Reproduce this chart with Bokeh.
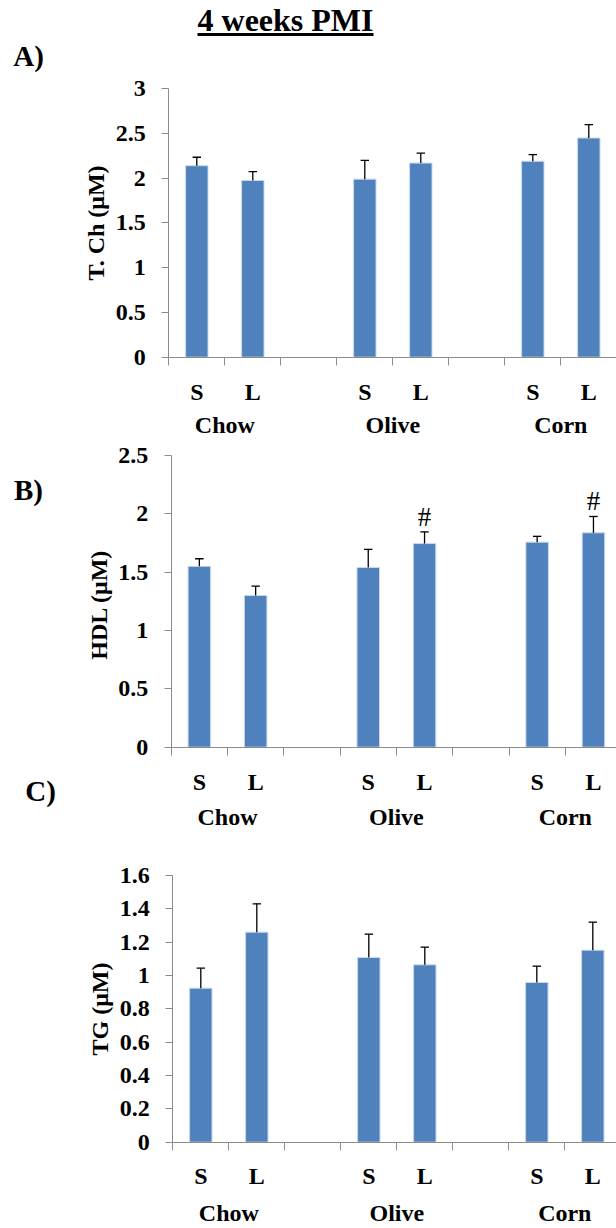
from bokeh.plotting import figure
from bokeh.models import (Range1d, FixedTicker, NumeralTickFormatter,
                          ColumnDataSource, LinearAxis)
from bokeh.core.properties import value
from bokeh.embed import file_html
from bokeh.resources import INLINE

# ---------------- data ----------------
sizes = ["S", "L", "S", "L", "S", "L"]
diets = ["Chow", "Chow", "Olive", "Olive", "Corn", "Corn"]
slot = [0.5, 1.5, 3.5, 4.5, 6.5, 7.5]          # bar slot centres (empty slot between diets)
group_names = ["Chow", "Olive", "Corn"]
group_pos = [1.0, 4.0, 7.0]

tch_mean = [2.14, 1.975, 1.99, 2.17, 2.19, 2.45]
tch_err = [0.095, 0.10, 0.21, 0.11, 0.075, 0.15]

hdl_mean = [1.55, 1.30, 1.54, 1.745, 1.757, 1.837]
hdl_err = [0.065, 0.08, 0.155, 0.10, 0.05, 0.14]
hdl_mark = ["", "", "", "#", "", "#"]

tg_mean = [0.924, 1.26, 1.108, 1.064, 0.958, 1.152]
tg_err = [0.12, 0.17, 0.14, 0.106, 0.098, 0.168]

yticks_tch = [0, 0.5, 1, 1.5, 2, 2.5, 3]
yticks_hdl = [0, 0.5, 1, 1.5, 2, 2.5]
yticks_tg = [0, 0.2, 0.4, 0.6, 0.8, 1.0, 1.2, 1.4, 1.6]

# ---------------- layout / style ----------------
W, H = 616, 1228
FONT = "Liberation Serif"
BAR = "#4F81BD"
AX = "#8C8C8C"

p = figure(width=W, height=H, output_backend="svg", toolbar_location=None,
           x_range=Range1d(0, W), y_range=Range1d(H, 0),
           x_axis_location=None, y_axis_location=None, min_border=0)
p.outline_line_color = None
p.xgrid.visible = False
p.ygrid.visible = False
p.background_fill_color = "white"


def txt(x, y, t, size, bold=True, align="center", **kw):
    p.text(x=x, y=y, text=t, text_font=value(FONT),
           text_font_style="bold" if bold else "normal",
           text_font_size=size, text_align=align, text_baseline="middle",
           text_color="black", **kw)


# title + panel letters
txt([285], [19], ["4 weeks PMI"], "32px")
p.segment(x0=[197], y0=[34], x1=[373], y1=[34], line_color="black", line_width=3)
txt([28], [55], ["A)"], "29px")
txt([28], [489], ["B)"], "29px")
txt([40], [790], ["C)"], "29px")


def panel(name, x0, xu, y0, yu, ymax, yticks, ylabel, mean, err,
          sl_y, grp_y, marks=None):
    xr, yr = "x" + name, "y" + name
    # ranges mapping this panel's data onto its place in the page
    p.extra_x_ranges[xr] = Range1d(-x0 / xu, (W - x0) / xu)
    p.extra_y_ranges[yr] = Range1d((y0 - H) / yu, y0 / yu)

    hi = [m + e for m, e in zip(mean, err)]
    src = ColumnDataSource(dict(
        x=slot, mean=mean, hi=hi, size=sizes,
        capl=[s - 0.075 for s in slot], capr=[s + 0.075 for s in slot],
        mark=marks if marks else [""] * len(slot)))

    p.vbar(x="x", top="mean", bottom=0, width=0.4, source=src,
           fill_color=BAR, line_color="#C9D8EC", line_width=1,
           x_range_name=xr, y_range_name=yr)
    p.segment(x0="x", y0="mean", x1="x", y1="hi", source=src,
              line_color="black", line_width=1.3,
              x_range_name=xr, y_range_name=yr)
    p.segment(x0="capl", y0="hi", x1="capr", y1="hi", source=src,
              line_color="black", line_width=1.3,
              x_range_name=xr, y_range_name=yr)
    if marks:
        p.text(x="x", y="hi", text="mark", source=src, y_offset=-15,
               text_font=value(FONT), text_font_size="27px",
               text_align="center", text_baseline="middle", text_color="black",
               x_range_name=xr, y_range_name=yr)

    ya = LinearAxis(x_range_name=xr, y_range_name=yr, fixed_location=0,
                    bounds=(0, ymax), ticker=FixedTicker(ticks=yticks),
                    formatter=NumeralTickFormatter(format="0.[0]"))
    ya.major_label_text_font = FONT
    ya.major_label_text_font_style = "bold"
    ya.major_label_text_font_size = "24px"
    ya.major_label_text_color = "black"
    ya.major_label_standoff = 16
    ya.axis_line_color = AX
    ya.major_tick_line_color = AX
    ya.major_tick_out = 7
    ya.major_tick_in = 0
    ya.minor_tick_line_color = None
    ya.axis_label = ylabel
    ya.axis_label_text_font = FONT
    ya.axis_label_text_font_style = "bold"
    ya.axis_label_text_font_size = "24px"
    ya.axis_label_text_color = "black"
    ya.axis_label_standoff = 4
    p.add_layout(ya, "left")

    xa = LinearAxis(x_range_name=xr, y_range_name=yr, fixed_location=0,
                    bounds=(0, 8), ticker=FixedTicker(ticks=list(range(9))))
    xa.major_label_text_font_size = "0px"
    xa.major_label_text_color = None
    xa.axis_line_color = AX
    xa.major_tick_line_color = AX
    xa.major_tick_out = 8
    xa.major_tick_in = 0
    xa.minor_tick_line_color = None
    p.add_layout(xa, "below")

    # category labels (bar sizes and diet groups)
    p.text(x=slot, y=[sl_y] * len(slot), text=sizes, text_font=value(FONT),
           text_font_style="bold", text_font_size="24px", text_align="center",
           text_baseline="middle", text_color="black", x_range_name=xr)
    p.text(x=group_pos, y=[grp_y] * len(group_pos), text=group_names,
           text_font=value(FONT), text_font_style="bold", text_font_size="24px",
           text_align="center", text_baseline="middle", text_color="black",
           x_range_name=xr)


panel("a", 168.3, 56.0, 356.7, 89.47, 3, yticks_tch, "T. Ch (\u03bcM)",
      tch_mean, tch_err, 391, 424)
panel("b", 170.7, 56.3, 746.7, 116.7, 2.5, yticks_hdl, "HDL  (\u03bcM)",
      hdl_mean, hdl_err, 781, 816, marks=hdl_mark)
panel("c", 172.3, 56.0, 1141.7, 166.7, 1.6, yticks_tg, "TG (\u03bcM)",
      tg_mean, tg_err, 1175, 1212)

open("out.html", "w").write(file_html(p, INLINE))
